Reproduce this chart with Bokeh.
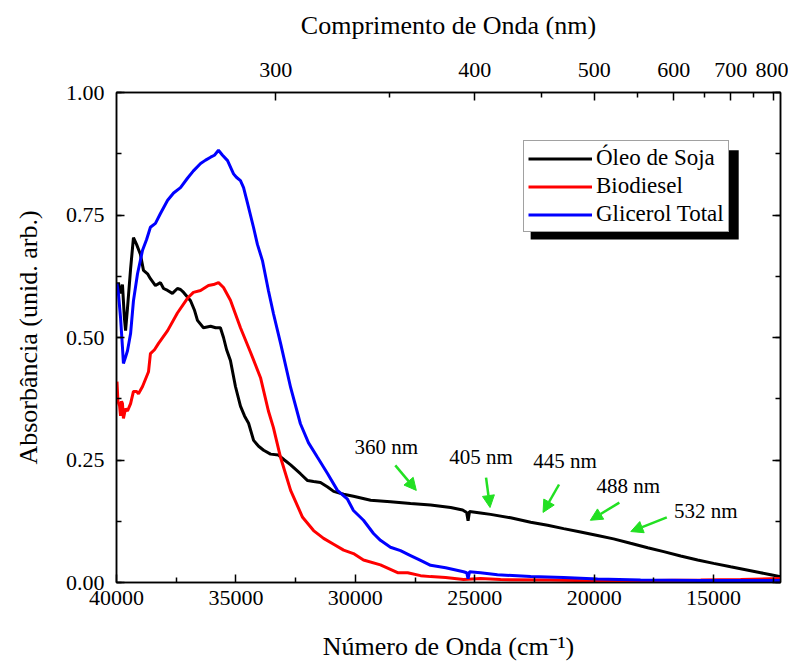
from bokeh.plotting import figure
from bokeh.models import (Range1d, LinearAxis, FixedTicker, SingleIntervalTicker,
                          CustomJSTickFormatter, NumeralTickFormatter, Legend,
                          LegendItem, BoxAnnotation, Arrow, NormalHead, Label)
from bokeh.embed import file_html
from bokeh.resources import INLINE

# --- spectra: wavenumber (cm^-1) and absorbance (arb. units) ---
soja_wn = [40000, 39920, 39830, 39750, 39670, 39620, 39540, 39410, 39290, 39160,
           39000, 38870, 38700, 38580, 38370, 38160, 38030, 37860, 37660, 37450,
           37320, 37190, 36900, 36730, 36610, 36360, 36060, 35850, 35650, 35520,
           35390, 35230, 35020, 34810, 34640, 34470, 34260, 34050, 33840, 33550,
           33220, 32970, 32710, 32300, 32000, 31750, 31460, 31160, 30910, 30490,
           30080, 29360, 28530, 27690, 26850, 26010, 25510, 25340, 25280, 25220,
           24760, 24340, 23500, 22660, 21950, 21280, 20570, 19860, 19190, 18480,
           17760, 17090, 16380, 15670, 15000, 14290, 13660, 13030, 12610, 12200]
soja_abs = [0.600, 0.612, 0.590, 0.608, 0.540, 0.514, 0.560, 0.640, 0.704, 0.690,
            0.670, 0.637, 0.630, 0.620, 0.606, 0.612, 0.600, 0.596, 0.590, 0.600,
            0.598, 0.592, 0.575, 0.555, 0.535, 0.520, 0.523, 0.520, 0.520, 0.500,
            0.475, 0.453, 0.400, 0.360, 0.340, 0.325, 0.290, 0.278, 0.270, 0.262,
            0.260, 0.250, 0.240, 0.222, 0.208, 0.206, 0.204, 0.195, 0.186, 0.180,
            0.176, 0.168, 0.165, 0.161, 0.158, 0.153, 0.148, 0.143, 0.126, 0.145,
            0.142, 0.139, 0.132, 0.123, 0.117, 0.110, 0.103, 0.096, 0.089, 0.080,
            0.071, 0.063, 0.054, 0.046, 0.039, 0.032, 0.026, 0.020, 0.016, 0.012]

biodiesel_wn = [39980, 39940, 39870, 39830, 39790, 39750, 39710, 39620, 39540, 39410,
                39290, 39160, 39080, 38910, 38660, 38580, 38410, 38240, 37860, 37450,
                37030, 36780, 36480, 36150, 35940, 35730, 35520, 35230, 34810, 34390,
                33970, 33640, 33430, 33130, 32710, 32210, 31750, 31330, 30910, 30490,
                30080, 29660, 28950, 28230, 27810, 27270, 26850, 26220, 25470, 24760,
                23920, 21830, 19730, 17640, 15540, 13870, 12200]
biodiesel_abs = [0.410, 0.370, 0.360, 0.340, 0.370, 0.365, 0.335, 0.355, 0.350, 0.365,
                 0.390, 0.390, 0.385, 0.400, 0.430, 0.467, 0.475, 0.488, 0.514, 0.550,
                 0.580, 0.592, 0.596, 0.606, 0.608, 0.612, 0.602, 0.576, 0.520, 0.470,
                 0.418, 0.350, 0.316, 0.255, 0.188, 0.133, 0.106, 0.090, 0.078, 0.066,
                 0.059, 0.046, 0.036, 0.020, 0.020, 0.014, 0.012, 0.010, 0.006, 0.008,
                 0.006, 0.005, 0.003, 0.004, 0.005, 0.006, 0.008]

glicerol_wn = [39980, 39920, 39830, 39750, 39710, 39620, 39540, 39410, 39290, 39120,
               38910, 38740, 38580, 38370, 38160, 37860, 37610, 37320, 37030, 36780,
               36480, 36270, 36060, 35900, 35730, 35560, 35350, 35100, 34980, 34810,
               34680, 34510, 34260, 34100, 33890, 33640, 33430, 33130, 32710, 32300,
               31960, 31580, 31160, 30750, 30330, 30080, 29660, 29240, 28950, 28530,
               28110, 27690, 27270, 26850, 26220, 25470, 25340, 25280, 25220, 24760,
               24050, 22660, 21280, 19860, 18060, 15540, 12200]
glicerol_abs = [0.610, 0.590, 0.540, 0.480, 0.447, 0.460, 0.473, 0.508, 0.575, 0.630,
                0.678, 0.700, 0.725, 0.733, 0.753, 0.780, 0.795, 0.806, 0.825, 0.840,
                0.855, 0.862, 0.868, 0.872, 0.882, 0.872, 0.861, 0.834, 0.827, 0.820,
                0.806, 0.773, 0.724, 0.690, 0.657, 0.596, 0.549, 0.488, 0.398, 0.324,
                0.285, 0.255, 0.222, 0.188, 0.170, 0.147, 0.127, 0.100, 0.086, 0.072,
                0.065, 0.055, 0.045, 0.035, 0.030, 0.022, 0.020, 0.008, 0.022, 0.020,
                0.016, 0.012, 0.010, 0.007, 0.005, 0.004, 0.004]

series_names = ["Óleo de Soja", "Biodiesel", "Glicerol Total"]
series_colors = ["#000000", "#ff0000", "#0000ff"]

# axis ticks
wn_major = [40000, 35000, 30000, 25000, 20000, 15000]
wn_minor = [37500, 32500, 27500, 22500, 17500, 12500]
nm_major = [300, 400, 500, 600, 700, 800]
nm_minor = [350, 450, 550, 650, 750]

# laser lines marked on the oil spectrum
laser_nm = [360, 405, 445, 488, 532]

SERIF = "Liberation Serif"

p = figure(width=788, height=663, output_backend="svg", toolbar_location=None,
           x_range=Range1d(40000, 12200), y_range=Range1d(0, 1.0),
           min_border_left=116, min_border_right=8, min_border_top=92,
           min_border_bottom=81)
p.xgrid.visible = False
p.ygrid.visible = False
p.outline_line_color = "black"
p.outline_line_width = 1.5
p.background_fill_color = "white"
p.border_fill_color = "white"


def style_axis(ax, label_size="22px"):
    ax.major_tick_in = 8
    ax.major_tick_out = 0
    ax.minor_tick_in = 5
    ax.minor_tick_out = 0
    ax.axis_line_width = 1.5
    ax.major_tick_line_width = 1.5
    ax.minor_tick_line_width = 1.5
    ax.major_label_text_font = SERIF
    ax.major_label_text_font_size = label_size
    ax.major_label_text_color = "black"
    ax.axis_label_text_font = SERIF
    ax.axis_label_text_font_size = "26px"
    ax.axis_label_text_font_style = "normal"
    ax.axis_label_text_color = "black"


# bottom: wavenumber
xa = p.xaxis[0]
xa.ticker = FixedTicker(ticks=wn_major, minor_ticks=wn_minor)
xa.formatter = NumeralTickFormatter(format="0")
xa.axis_label = "Número de Onda (cm⁻¹)"
style_axis(xa)
xa.major_label_standoff = 8
xa.axis_label_standoff = 24

# left: absorbance
ya = p.yaxis[0]
ya.ticker = SingleIntervalTicker(interval=0.25, num_minor_ticks=2)
ya.formatter = NumeralTickFormatter(format="0.00")
ya.axis_label = "Absorbância (unid. arb.)"
style_axis(ya)
ya.major_label_standoff = 12
ya.axis_label_standoff = 20

# top: wavelength in nm on the same wavenumber scale
top = LinearAxis(ticker=FixedTicker(ticks=[1e7 / n for n in nm_major],
                                    minor_ticks=[1e7 / n for n in nm_minor]),
                 formatter=CustomJSTickFormatter(code="return (1e7 / tick).toFixed(0);"),
                 axis_label="Comprimento de Onda (nm)")
style_axis(top)
top.major_label_standoff = 16
top.axis_label_standoff = 20
p.add_layout(top, "above")

# right: mirrored ticks without labels
right = LinearAxis(ticker=SingleIntervalTicker(interval=0.25, num_minor_ticks=2),
                   formatter=CustomJSTickFormatter(code="return '';"))
style_axis(right, label_size="0px")
right.major_label_standoff = 0
p.add_layout(right, "right")

# spectra
renderers = []
for wn, ab, color in [(soja_wn, soja_abs, series_colors[0]),
                      (biodiesel_wn, biodiesel_abs, series_colors[1]),
                      (glicerol_wn, glicerol_abs, series_colors[2])]:
    renderers.append(p.line(wn, ab, line_color=color, line_width=3))

# legend with drop shadow
shadow = BoxAnnotation(left=22660, right=13950, top=0.882, bottom=0.700,
                       fill_color="black", fill_alpha=1.0, line_color=None,
                       level="overlay")
p.add_layout(shadow)

legend = Legend(items=[LegendItem(label=n, renderers=[r])
                       for n, r in zip(series_names, renderers)],
                location=(407, 350), orientation="vertical",
                label_text_font=SERIF, label_text_font_size="23px",
                label_text_line_height=1.0,
                label_text_color="black", glyph_width=64, glyph_height=23,
                label_height=23, label_standoff=4, padding=4, spacing=2,
                margin=0, border_line_color="#444444", border_line_width=1,
                background_fill_color="white", background_fill_alpha=1.0)
p.add_layout(legend, "center")

# green arrows marking laser wavelengths on the oil curve
tip_shift = -330                      # tip sits just right of the line position
tip_y = [0.188, 0.153, 0.143, 0.127, 0.104]
tail_dx = [880, 167, -670, -1215, -1507]
tail_dy = [0.051, 0.061, 0.057, 0.036, 0.029]
text_dx = [1257, 377, -922, -1592, -3141]
text_dy = [0.088, 0.104, 0.104, 0.069, 0.041]
GREEN = "#22e022"
for nm, ty, dx, dy, lx, ly in zip(laser_nm, tip_y, tail_dx, tail_dy, text_dx, text_dy):
    tx = 1e7 / nm + tip_shift
    p.add_layout(Arrow(x_start=tx + dx, y_start=ty + dy, x_end=tx, y_end=ty,
                       line_color=GREEN, line_width=2.5,
                       end=NormalHead(size=12, fill_color=GREEN, line_color=GREEN)))
    p.add_layout(Label(x=tx + lx, y=ty + ly, text=f"{nm} nm",
                       text_font=SERIF, text_font_size="21px", text_color="black",
                       text_align="center", text_baseline="middle"))

open("out.html", "w").write(file_html(p, INLINE))
